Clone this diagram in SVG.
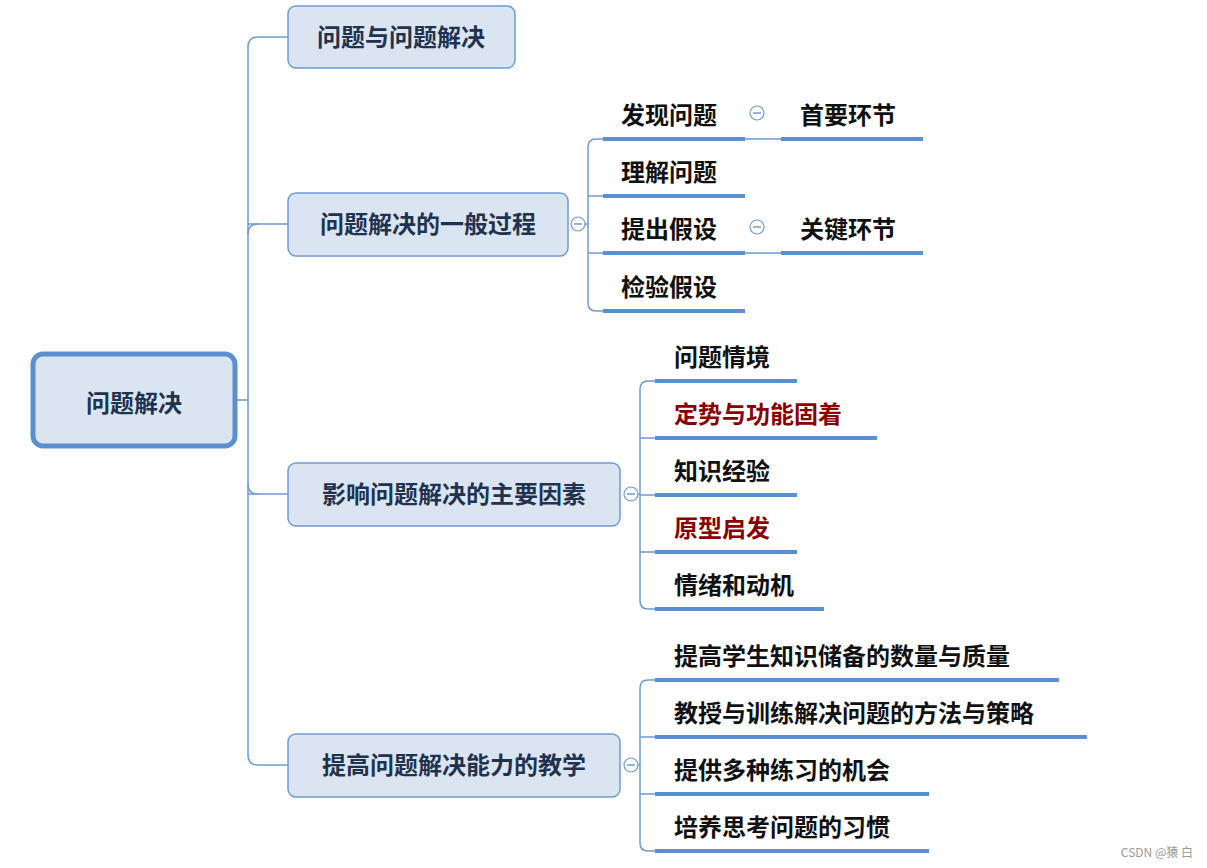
<svg xmlns="http://www.w3.org/2000/svg" width="1207" height="868" viewBox="0 0 1207 868">
<style>
.box{fill:#dbe5f1;stroke:#6f9bd1;stroke-width:1.5}
.bt{font-family:"Noto Sans CJK SC",sans-serif;font-weight:bold;font-size:24px;fill:#1f3350}
.t{font-family:"Noto Sans CJK SC",sans-serif;font-weight:bold;font-size:24px;fill:#111}
.r{fill:#8b0000}
.ln{fill:none;stroke:#6f9bd1;stroke-width:1.5}
.ul{stroke:#5b8fd0;stroke-width:4}
.c{fill:#fff;stroke:#6f9bd1;stroke-width:1.2}
</style>
<rect width="1207" height="868" fill="#fff"/>
<g id="connectors">
<path class="ln" d="M235,400H248M288,37H258Q248,37 248,47V755Q248,765 258,765H288M248,224Q248,224 258,224H288M248,494H288"/>
<path class="ln" d="M248,234Q248,224 258,224M248,484Q248,494 258,494"/>
<path class="ln" d="M585,224H588M603,139H596Q588,139 588,147V303Q588,311 596,311H603M588,196H603M588,253H603"/>
<path class="ln" d="M745,139H781M745,253H781"/>
<path class="ln" d="M638,494H640M655,381H648Q640,381 640,389V601Q640,609 648,609H655M640,438H655M640,495H655M640,552H655"/>
<path class="ln" d="M638,765H640M655,680H648Q640,680 640,688V843Q640,851 648,851H655M640,737H655M640,794H655"/>
<circle class="c" cx="578" cy="224" r="7"/><path class="ln" d="M574,224H582"/>
<circle class="c" cx="631" cy="494" r="7"/><path class="ln" d="M627,494H635"/>
<circle class="c" cx="631" cy="765" r="7"/><path class="ln" d="M627,765H635"/>
<circle class="c" cx="757" cy="113" r="7"/><path class="ln" d="M753,113H761"/>
<circle class="c" cx="757" cy="227" r="7"/><path class="ln" d="M753,227H761"/>
</g>
<g id="root"><rect x="33" y="354" width="202" height="92" rx="10" fill="#dbe5f1" stroke="#5b8fd0" stroke-width="5"/><text class="bt" x="134" y="412" text-anchor="middle">问题解决</text></g>
<g id="n1"><rect class="box" x="288" y="6" width="227" height="62" rx="8"/><text class="bt" x="401" y="46" text-anchor="middle">问题与问题解决</text></g>
<g id="n2"><rect class="box" x="288" y="193" width="280" height="63" rx="8"/><text class="bt" x="428" y="233" text-anchor="middle">问题解决的一般过程</text></g>
<g id="n3"><rect class="box" x="288" y="463" width="332" height="63" rx="8"/><text class="bt" x="454" y="503" text-anchor="middle">影响问题解决的主要因素</text></g>
<g id="n4"><rect class="box" x="288" y="734" width="332" height="63" rx="8"/><text class="bt" x="454" y="774" text-anchor="middle">提高问题解决能力的教学</text></g>
<g id="p1"><line class="ul" x1="603" y1="139" x2="745" y2="139"/><text class="t" x="621" y="124">发现问题</text></g>
<g id="p1a"><line class="ul" x1="781" y1="139" x2="923" y2="139"/><text class="t" x="800" y="124">首要环节</text></g>
<g id="p2"><line class="ul" x1="603" y1="196" x2="745" y2="196"/><text class="t" x="621" y="181">理解问题</text></g>
<g id="p3"><line class="ul" x1="603" y1="253" x2="745" y2="253"/><text class="t" x="621" y="238">提出假设</text></g>
<g id="p3a"><line class="ul" x1="781" y1="253" x2="923" y2="253"/><text class="t" x="800" y="238">关键环节</text></g>
<g id="p4"><line class="ul" x1="603" y1="311" x2="745" y2="311"/><text class="t" x="621" y="296">检验假设</text></g>
<g id="f1"><line class="ul" x1="655" y1="381" x2="797" y2="381"/><text class="t" x="674" y="366">问题情境</text></g>
<g id="f2"><line class="ul" x1="655" y1="438" x2="877" y2="438"/><text class="t r" x="674" y="423">定势与功能固着</text></g>
<g id="f3"><line class="ul" x1="655" y1="495" x2="797" y2="495"/><text class="t" x="674" y="480">知识经验</text></g>
<g id="f4"><line class="ul" x1="655" y1="552" x2="797" y2="552"/><text class="t r" x="674" y="537">原型启发</text></g>
<g id="f5"><line class="ul" x1="655" y1="609" x2="824" y2="609"/><text class="t" x="674" y="594">情绪和动机</text></g>
<g id="e1"><line class="ul" x1="655" y1="680" x2="1059" y2="680"/><text class="t" x="674" y="665">提高学生知识储备的数量与质量</text></g>
<g id="e2"><line class="ul" x1="655" y1="737" x2="1087" y2="737"/><text class="t" x="674" y="722">教授与训练解决问题的方法与策略</text></g>
<g id="e3"><line class="ul" x1="655" y1="794" x2="929" y2="794"/><text class="t" x="674" y="779">提供多种练习的机会</text></g>
<g id="e4"><line class="ul" x1="655" y1="851" x2="929" y2="851"/><text class="t" x="674" y="836">培养思考问题的习惯</text></g>
<text x="1193" y="857" text-anchor="end" font-family="Noto Sans CJK SC,sans-serif" font-size="12" fill="#999">CSDN @猿 白</text>
</svg>
